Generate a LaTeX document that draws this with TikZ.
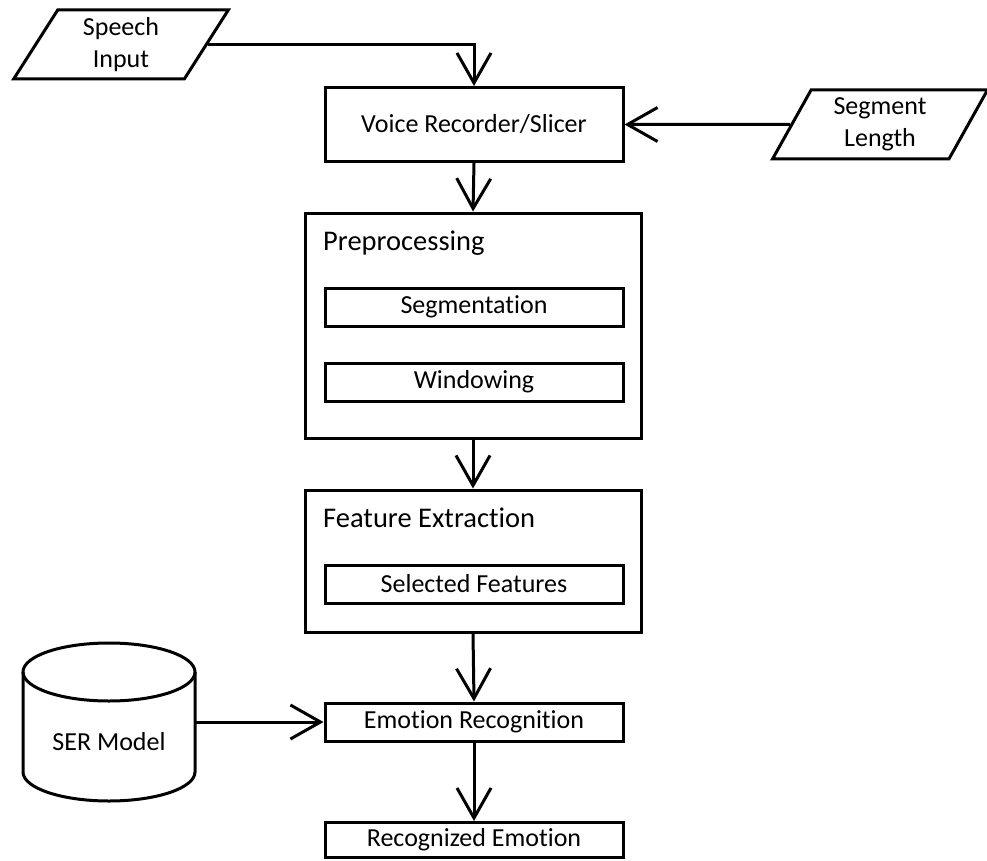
\documentclass[tikz,border=0pt]{standalone}
\usepackage{fontspec}
\setmainfont[Ligatures={NoCommon,NoRare}]{Carlito}
\usetikzlibrary{arrows.meta,shapes.geometric}

\tikzset{
	block/.style={draw, line width=3pt, minimum width=298pt, inner sep=0pt, font=\fontsize{26}{32}\selectfont},
	group/.style={draw, line width=3pt, minimum width=336pt, inner sep=0pt},
	title/.style={anchor=west, inner sep=0pt, font=\fontsize{28.5}{32}\selectfont},
	inout/.style={draw, line width=3pt, trapezium, trapezium left angle=64, trapezium right angle=116,
		trapezium stretches=true, minimum width=215pt, minimum height=69pt, inner sep=0pt,
		align=center, font=\fontsize{26}{32}\selectfont},
	flow/.style={line width=3pt, -{Straight Barb[length=30pt, width=34pt]}}
}

\begin{document}
\begin{tikzpicture}[x=1pt, y=-1pt]
	\useasboundingbox (0,0) rectangle (987,861);
	
	% inputs
	\node[inout] (speech) at (121, 44.5) {Speech\\Input};
	\node[inout] (seglen) at (880, 124.5) {Segment\\Length};
	
	\node[block, minimum height=74pt] (voice) at (474, 124.5) {Voice Recorder/Slicer};
	
	% preprocessing stage
	\node[group, minimum height=225pt] (pre) at (473, 325.5) {};
	\node[title] (pretitle) at (323, 243) {Preprocessing};
	\node[block, minimum height=38pt] (seg) at (474, 307) {Segmentation};
	\node[block, minimum height=38pt] (win) at (474, 382) {Windowing};
	
	% feature stage
	\node[group, minimum height=142pt] (feat) at (473, 561) {};
	\node[title] (feattitle) at (323, 518) {Feature Extraction};
	\node[block, minimum height=38pt] (sel) at (474, 584) {Selected Features};
	
	\node[block, minimum height=38pt] (emo) at (474, 722) {Emotion Recognition};
	\node[block, minimum height=35pt] (recog) at (474, 840) {Recognized Emotion};
	
	% model store
	\draw[line width=3pt] (109,672) ellipse [x radius=86, y radius=29];
	\draw[line width=3pt] (23,672) -- (23,772) arc[start angle=180, end angle=0, x radius=86, y radius=29] -- (195,672);
	\node[font=\fontsize{26}{32}\selectfont] (ser) at (109, 742) {SER Model};
	\coordinate (serout) at (195, 722);
	
	% connectors
	\draw[flow] (speech.east) -| (voice.north);
	\draw[flow] (seglen.west) -- (voice.east);
	\draw[flow] (voice.south) -- (pre.north);
	\draw[flow] (pre.south) -- (feat.north);
	\draw[flow] (feat.south) -- (emo.north);
	\draw[flow] (emo.south) -- (recog.north);
	\draw[flow] (serout) -- (emo.west);
\end{tikzpicture}
\end{document}
